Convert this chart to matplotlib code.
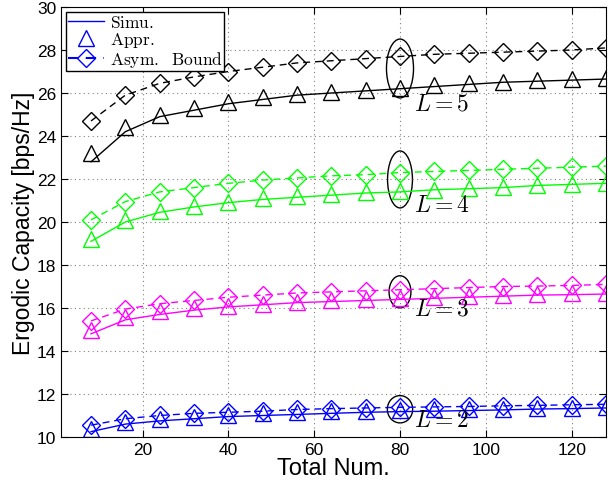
import matplotlib.pyplot as plt
from matplotlib.patches import Ellipse
from matplotlib.lines import Line2D

plt.rcParams['mathtext.fontset'] = 'cm'
plt.rcParams['font.family'] = ['Liberation Sans', 'DejaVu Sans']

x = [8, 16, 24, 32, 40, 48, 56, 64, 72, 80, 88, 96, 104, 112, 120, 128]

# L = 5
simu5 = [22.8, 24.2, 24.9, 25.2, 25.5, 25.7, 25.9, 26.0, 26.1, 26.2, 26.3, 26.4, 26.5, 26.55, 26.6, 26.65]
appr5 = [23.2, 24.4, 25.0, 25.3, 25.6, 25.8, 25.95, 26.05, 26.15, 26.25, 26.35, 26.45, 26.5, 26.6, 26.65, 26.7]
asym5 = [24.7, 25.9, 26.45, 26.75, 27.0, 27.2, 27.4, 27.5, 27.6, 27.7, 27.8, 27.85, 27.9, 27.95, 28.0, 28.1]
# L = 4
simu4 = [19.1, 20.0, 20.45, 20.7, 20.9, 21.05, 21.15, 21.25, 21.35, 21.4, 21.5, 21.55, 21.6, 21.7, 21.75, 21.8]
appr4 = [19.2, 20.1, 20.5, 20.75, 20.95, 21.1, 21.2, 21.3, 21.4, 21.45, 21.5, 21.6, 21.65, 21.7, 21.75, 21.8]
asym4 = [20.1, 20.95, 21.4, 21.6, 21.8, 21.95, 22.05, 22.15, 22.2, 22.3, 22.35, 22.4, 22.45, 22.5, 22.55, 22.6]
# L = 3
simu3 = [14.8, 15.45, 15.7, 15.9, 16.05, 16.15, 16.25, 16.3, 16.35, 16.4, 16.45, 16.5, 16.55, 16.6, 16.62, 16.65]
appr3 = [15.0, 15.6, 15.85, 16.0, 16.1, 16.2, 16.3, 16.35, 16.4, 16.45, 16.5, 16.55, 16.6, 16.65, 16.68, 16.7]
asym3 = [15.4, 15.95, 16.2, 16.35, 16.5, 16.6, 16.7, 16.75, 16.8, 16.85, 16.9, 16.95, 17.0, 17.02, 17.05, 17.1]
# L = 2
simu2 = [10.25, 10.6, 10.75, 10.85, 10.95, 11.0, 11.05, 11.1, 11.15, 11.18, 11.2, 11.23, 11.26, 11.3, 11.32, 11.35]
appr2 = [10.35, 10.7, 10.85, 10.95, 11.0, 11.1, 11.15, 11.2, 11.22, 11.25, 11.28, 11.3, 11.32, 11.35, 11.37, 11.4]
asym2 = [10.55, 10.85, 11.0, 11.1, 11.15, 11.2, 11.28, 11.32, 11.35, 11.38, 11.4, 11.42, 11.45, 11.47, 11.5, 11.52]

groups = [
    ('k', simu5, appr5, asym5),
    ((0, 1, 0), simu4, appr4, asym4),
    ((1, 0, 1), simu3, appr3, asym3),
    ('b', simu2, appr2, asym2),
]

# ellipse (center y, width, height) and label y for each L
ell_y = [27.14, 21.98, 16.75, 11.29]
ell_w = [6.3, 5.8, 5.1, 5.9]
ell_h = [2.74, 2.65, 1.5, 1.27]
lab_y = [25.53, 20.8, 16.0, 10.79]
lab_txt = ['$L=5$', '$L=4$', '$L=3$', '$L=2$']

dash = (5, 3.5)

fig = plt.figure(figsize=(6.11, 4.89), dpi=100)
ax = fig.add_axes([0.0998, 0.1043, 0.892, 0.8793])

for c, s, a, b in groups:
    ax.plot(x, s, '-', color=c, lw=1.0)
    ax.plot(x, a, '^', color=c, mfc='none', ms=11, mew=1.0)
    ax.plot(x, b, color=c, ls=(0, dash), marker='D', mfc='none', ms=9.5, mew=1.0, lw=1.0)

for i in range(4):
    ax.add_patch(Ellipse((80, ell_y[i]), ell_w[i], ell_h[i], fill=False, ec='k', lw=1.0))
    ax.text(83.3, lab_y[i], lab_txt[i], fontsize=17, va='center', ha='left')

ax.set_xlim(1, 128)
ax.set_ylim(10, 30)
ax.set_xticks([20, 40, 60, 80, 100, 120])
ax.set_yticks(range(10, 31, 2))
ax.tick_params(direction='in', top=True, right=True, labelsize=12.5, length=5)
ax.grid(True, linestyle=(0, (1, 3)), color='gray', lw=0.8)
ax.set_xlabel('Total Num.', fontsize=17, labelpad=0)
ax.set_ylabel('Ergodic Capacity [bps/Hz]', fontsize=16.5, labelpad=1)

handles = [
    Line2D([], [], color='b', lw=1.0),
    Line2D([], [], color='b', ls='none', marker='^', mfc='none', ms=11),
    Line2D([], [], color='b', ls=(0, dash), marker='D', mfc='none', ms=9.5),
]
labels = [r'$\mathrm{Simu.}$', r'$\mathrm{Appr.}$', r'$\mathrm{Asym.\ \ Bound}$']
leg = ax.legend(handles, labels, loc='upper left', fontsize=12.5, fancybox=False,
                edgecolor='k', framealpha=1, borderpad=0.1, labelspacing=0.0,
                handlelength=2.1, handletextpad=0.3, borderaxespad=0.3)
leg.get_frame().set_linewidth(1.0)

plt.savefig('out.png', dpi=100)
